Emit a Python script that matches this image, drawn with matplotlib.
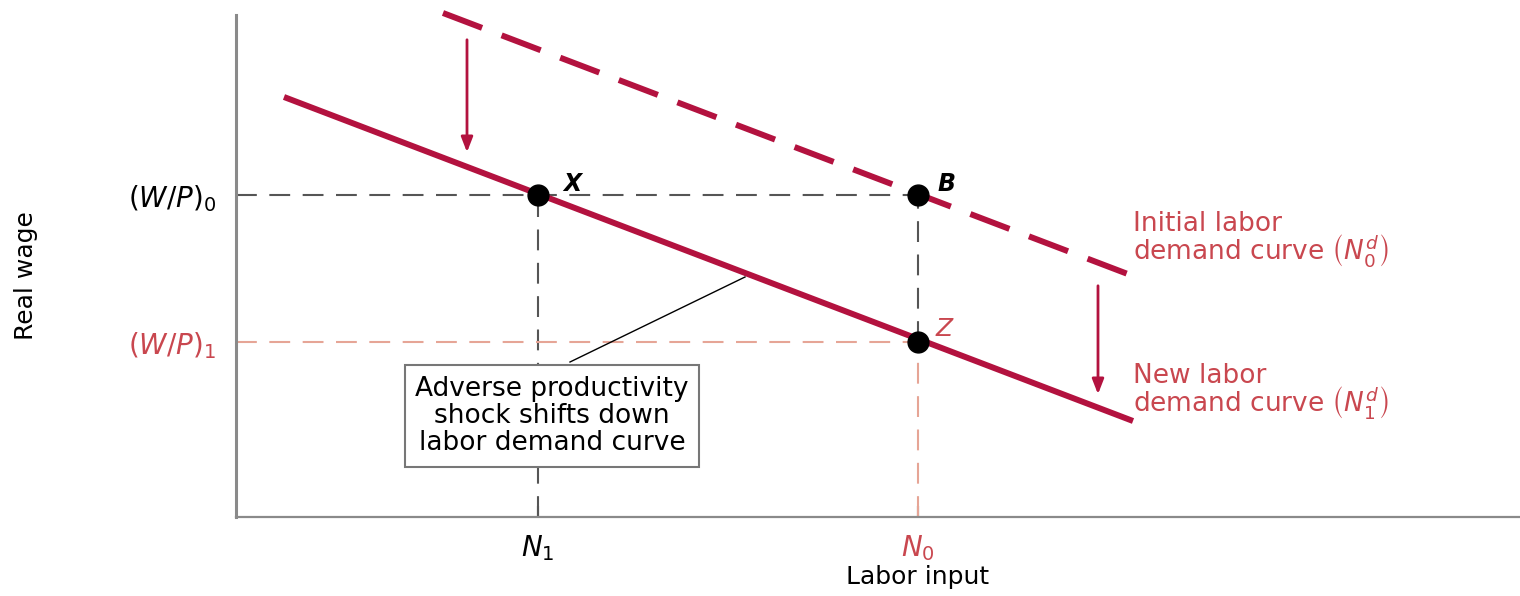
import matplotlib.pyplot as plt

# schematic units (axis spans 0..1284 horizontally, 0..502 vertically)
labor_levels = [302, 682]          # N1, N0
labor_labels = [r"$N_1$", r"$N_0$"]
wage_levels = [322, 175]           # (W/P)0, (W/P)1
wage_labels = [r"$(W/P)_0$", r"$(W/P)_1$"]

initial_x = [207, 897]             # initial labor demand curve N^d_0
initial_y = [504, 241]
new_x = [48, 897]                  # new labor demand curve N^d_1
new_y = [420, 96]

shift_arrows = [(231, 480, 362), (862, 234, 120)]  # x, y from, y to

CRIMSON = "#b3123f"
SALMON = "#c9474f"
LIGHT = "#e6a596"
GRAY = "#555555"

plt.rcParams["font.family"] = ["DejaVu Sans"]
plt.rcParams["mathtext.fontset"] = "dejavusans"

fig = plt.figure(figsize=(15.2, 5.96), dpi=100)
ax = fig.add_axes([236 / 1520, 79 / 596, 1284 / 1520, 502 / 596])
ax.set_xlim(0, 1284)
ax.set_ylim(0, 502)
for side in ("top", "right"):
    ax.spines[side].set_visible(False)
ax.spines["left"].set_color("#8a8a8a")
ax.spines["left"].set_linewidth(2.2)
ax.spines["bottom"].set_color("#8a8a8a")
ax.spines["bottom"].set_linewidth(1.6)

n1, n0 = labor_levels
w0, w1 = wage_levels

# guide lines
dash = (0, (10, 6))
ax.plot([0, n0], [w0, w0], color=GRAY, lw=1.5, ls=dash)
ax.plot([n1, n1], [0, w0], color=GRAY, lw=1.5, ls=dash)
ax.plot([n0, n0], [w1, w0], color=GRAY, lw=1.5, ls=dash)
ax.plot([0, n0], [w1, w1], color=LIGHT, lw=1.5, ls=dash)
ax.plot([n0, n0], [0, w1], color=LIGHT, lw=1.5, ls=dash)

# demand curves
ax.plot(initial_x, initial_y, color=CRIMSON, lw=4.3, ls=(0, (7, 3.5)),
        clip_on=False)
ax.plot(new_x, new_y, color=CRIMSON, lw=4.3, solid_capstyle="butt")

for x, y0, y1 in shift_arrows:
    ax.annotate("", xy=(x, y1), xytext=(x, y0),
                arrowprops=dict(arrowstyle="-|>,head_length=0.9,head_width=0.35",
                                color=CRIMSON, lw=2))

# points
ax.plot([n1, n0, n0], [w0, w0, w1], "o", color="black", ms=15)
ax.text(n1 + 25, w0 + 4, "X", fontsize=17, fontweight="bold", style="italic")
ax.text(n0 + 20, w0 + 4, "B", fontsize=17, fontweight="bold", style="italic")
ax.text(n0 + 18, w1 + 6, "Z", fontsize=18, style="italic", color=SALMON)

# curve labels
ax.text(897, 277, "Initial labor\n" + r"demand curve $\left(N^d_0\right)$",
        fontsize=19, color=SALMON, va="center", linespacing=0.85)
ax.text(897, 125, "New labor\n" + r"demand curve $\left(N^d_1\right)$",
        fontsize=19, color=SALMON, va="center", linespacing=0.85)

# annotation box
ax.plot([334, 509], [155, 240], color="black", lw=1)
ax.text(316, 101, "Adverse productivity\nshock shifts down\nlabor demand curve",
        fontsize=19, ha="center", va="center", linespacing=1.05,
        bbox=dict(boxstyle="square,pad=0.4", fc="white", ec="#777777", lw=1.5))

# ticks
ax.set_xticks(labor_levels)
ax.set_xticklabels(labor_labels, fontsize=20)
ax.tick_params(axis="x", direction="in", length=8, width=1.5, pad=12)
for tick, col in zip(ax.xaxis.get_major_ticks(), ["#777777", LIGHT]):
    tick.tick1line.set_color(col)
ax.get_xticklabels()[1].set_color(SALMON)

ax.set_yticks(wage_levels)
ax.set_yticklabels(wage_labels, fontsize=20)
ax.tick_params(axis="y", length=0, pad=14)
ax.get_yticklabels()[1].set_color(SALMON)

ax.set_xlabel("Labor input", fontsize=18)
ax.xaxis.set_label_coords(682 / 1284, -0.095)
ax.set_ylabel("Real wage", fontsize=18)
ax.yaxis.set_label_coords(-198 / 1284, 0.48)

fig.savefig("out.png", dpi=100)
